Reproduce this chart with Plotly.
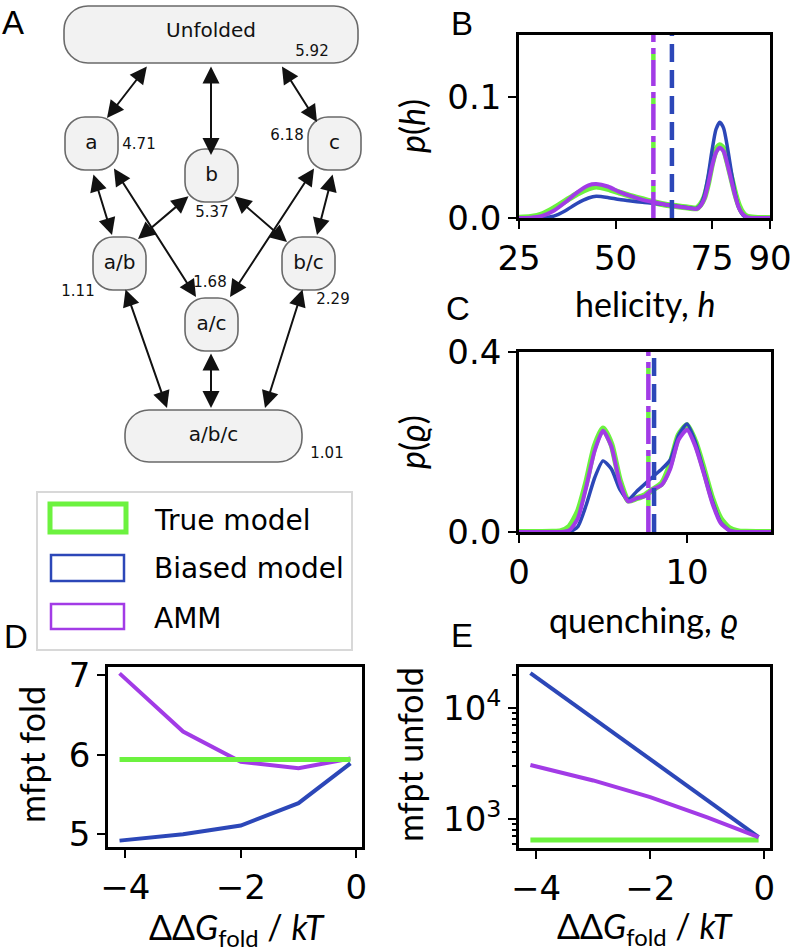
import plotly.graph_objects as go

# ---------------- data ----------------
# Panel A: kinetic network
node_names = ["Unfolded", "a", "b", "c", "a/b", "b/c", "a/c", "a/b/c"]
node_values = ["5.92", "4.71", "5.37", "6.18", "1.11", "2.29", "1.68", "1.01"]
edges = [("Unfolded", "a"), ("Unfolded", "b"), ("Unfolded", "c"),
         ("a", "a/b"), ("a", "a/c"), ("b", "a/b"), ("b", "b/c"),
         ("c", "a/c"), ("c", "b/c"),
         ("a/b", "a/b/c"), ("a/c", "a/b/c"), ("b/c", "a/b/c")]

# Panel B: helicity distributions
helicity = [25, 28, 31, 34, 37, 40, 43, 45, 48, 51, 54, 57, 60, 63, 66, 69, 71,
            72, 73, 74, 75, 76, 77, 78, 79, 80, 81, 82, 83, 84, 86, 90]
ph_true = [0.0002, 0.0008, 0.003, 0.008, 0.014, 0.020, 0.0245, 0.026, 0.024, 0.021, 0.018,
           0.0155, 0.013, 0.011, 0.0097, 0.0085, 0.008,
           0.011, 0.017, 0.029, 0.045, 0.056, 0.060, 0.057, 0.046, 0.033, 0.020, 0.010,
           0.004, 0.0012, 0.0002, 0.0]
ph_biased = [0.0, 0.0, 0.0003, 0.0015, 0.006, 0.012, 0.0165, 0.018, 0.017, 0.0152, 0.014,
             0.013, 0.0122, 0.011, 0.0098, 0.0085, 0.008,
             0.011, 0.019, 0.035, 0.056, 0.073, 0.079, 0.074, 0.058, 0.038, 0.020, 0.008,
             0.0025, 0.0005, 0.0, 0.0]
ph_amm = [0.0, 0.0003, 0.0018, 0.006, 0.013, 0.021, 0.027, 0.028, 0.026, 0.0215, 0.018,
          0.015, 0.013, 0.011, 0.0095, 0.0082, 0.0075,
          0.010, 0.016, 0.028, 0.043, 0.054, 0.058, 0.055, 0.044, 0.031, 0.018, 0.008,
          0.003, 0.0008, 0.0, 0.0]
mean_h = {"true": 59.8, "biased": 64.6, "amm": 59.8}

# Panel C: quenching distributions
quench = [0, 2, 2.5, 3, 3.5, 4, 4.5, 5, 5.5, 6, 6.5, 7, 7.5, 7.8, 8, 8.5, 9, 9.5,
          10, 10.5, 11, 11.5, 12, 12.5, 13, 13.5, 15]
pq_true = [0, 0.0005, 0.002, 0.012, 0.045, 0.11, 0.19, 0.23, 0.195, 0.115, 0.07, 0.075,
           0.082, 0.09, 0.095, 0.108, 0.15, 0.215, 0.237, 0.2, 0.14, 0.075, 0.03, 0.009,
           0.002, 0.0003, 0]
pq_biased = [0, 0, 0, 0, 0.012, 0.06, 0.12, 0.158, 0.14, 0.095, 0.072, 0.09, 0.107, 0.117,
             0.124, 0.14, 0.16, 0.215, 0.24, 0.2, 0.135, 0.07, 0.022, 0.004, 0, 0, 0]
pq_amm = [0, 0, 0, 0.004, 0.03, 0.10, 0.18, 0.225, 0.19, 0.11, 0.068, 0.075, 0.08, 0.09,
          0.095, 0.105, 0.14, 0.205, 0.227, 0.19, 0.13, 0.065, 0.02, 0.004, 0, 0, 0]
mean_q = {"true": 7.7, "biased": 8.04, "amm": 7.7}

# Panels D and E
ddg = [-4.1, -3.0, -2.0, -1.0, -0.1]
fold_true = [5.94, 5.94, 5.94, 5.94, 5.94]
fold_biased = [4.92, 5.00, 5.11, 5.39, 5.89]
fold_amm = [7.02, 6.29, 5.91, 5.83, 5.95]
unfold_true = [648, 648, 648, 648, 648]
unfold_biased = [20600, 8100, 3470, 1480, 690]
unfold_amm = [3070, 2230, 1580, 1036, 690]

legend_labels = ["True model", "Biased model", "AMM"]

# ---------------- layout / style (pixel positions) ----------------
W, H = 796, 952
GREEN, BLUE, PURPLE = "#6cf23f", "#2c47b8", "#a23be6"
TICKFONT = dict(family="DejaVu Sans", size=34, color="black")
LABELFONT = dict(family="Lato", size=34, color="black")

node_box = {"Unfolded": (64, 6, 358, 63, 24), "a": (65, 117, 118, 170, 20),
            "b": (185, 149, 238, 202, 20), "c": (308, 117, 361, 170, 20),
            "a/b": (93, 237, 146, 290, 20), "b/c": (282, 237, 335, 290, 20),
            "a/c": (185, 298, 238, 351, 20), "a/b/c": (125, 410, 302, 462, 24)}
value_pos = {"Unfolded": (312, 52), "a": (139, 145), "b": (212, 213), "c": (287, 136),
             "a/b": (78, 292), "b/c": (333, 300), "a/c": (210, 283), "a/b/c": (327, 454)}
edge_pos = [((148, 65), (107, 118)), ((211, 65), (211, 155)), ((281, 65), (317, 122)),
            ((93, 173), (112, 235)), ((113, 167), (196, 297)), ((190, 195), (138, 239)),
            ((233, 195), (287, 242)), ((315, 167), (230, 297)), ((333, 173), (317, 235)),
            ((125, 288), (167, 408)), ((211, 352), (211, 408)), ((303, 288), (265, 408))]


def px_dom_x(a, b):
    return [a / W, b / W]


def px_dom_y(top, bottom):
    return [1 - bottom / H, 1 - top / H]


def rrect(x0, y0, x1, y1, r):
    c = r * 0.5523
    return (f"M {x0+r},{y0} L {x1-r},{y0} C {x1-r+c},{y0} {x1},{y0+r-c} {x1},{y0+r} "
            f"L {x1},{y1-r} C {x1},{y1-r+c} {x1-r+c},{y1} {x1-r},{y1} "
            f"L {x0+r},{y1} C {x0+r-c},{y1} {x0},{y1-r+c} {x0},{y1-r} "
            f"L {x0},{y0+r} C {x0},{y0+r-c} {x0+r-c},{y0} {x0+r},{y0} Z")


fig = go.Figure()

# ---- Panel B ----
for yv, col, w in [(ph_true, GREEN, 6), (ph_biased, BLUE, 3.5), (ph_amm, PURPLE, 4)]:
    fig.add_trace(go.Scatter(x=helicity, y=yv, mode="lines",
                             line=dict(color=col, width=w, shape="spline", smoothing=0.6),
                             xaxis="x", yaxis="y", showlegend=False, hoverinfo="skip"))
# ---- Panel C ----
for yv, col, w in [(pq_true, GREEN, 6), (pq_biased, BLUE, 3.5), (pq_amm, PURPLE, 4)]:
    fig.add_trace(go.Scatter(x=quench, y=yv, mode="lines",
                             line=dict(color=col, width=w, shape="spline", smoothing=0.6),
                             xaxis="x2", yaxis="y2", showlegend=False, hoverinfo="skip"))
# ---- Panel D ----
for yv, col, w in [(fold_biased, BLUE, 4), (fold_amm, PURPLE, 4), (fold_true, GREEN, 5)]:
    fig.add_trace(go.Scatter(x=ddg, y=yv, mode="lines", line=dict(color=col, width=w),
                             xaxis="x3", yaxis="y3", showlegend=False, hoverinfo="skip"))
# ---- Panel E ----
for yv, col, w in [(unfold_true, GREEN, 5), (unfold_biased, BLUE, 4), (unfold_amm, PURPLE, 4)]:
    fig.add_trace(go.Scatter(x=ddg, y=yv, mode="lines", line=dict(color=col, width=w),
                             xaxis="x4", yaxis="y4", showlegend=False, hoverinfo="skip"))

# ---- Panel A: node labels and values as text traces on pixel axis ----
cx = [(node_box[n][0] + node_box[n][2]) / 2 for n in node_names]
cy = [(node_box[n][1] + node_box[n][3]) / 2 for n in node_names]
cy[0] = cy[0] - 3
fig.add_trace(go.Scatter(x=cx, y=cy, mode="text", text=node_names,
                         textfont=dict(family="DejaVu Sans", size=20, color="#111"),
                         xaxis="x5", yaxis="y5", showlegend=False, hoverinfo="skip"))
fig.add_trace(go.Scatter(x=[value_pos[n][0] for n in node_names],
                         y=[value_pos[n][1] for n in node_names], mode="text", text=node_values,
                         textfont=dict(family="DejaVu Sans", size=15, color="#111"),
                         xaxis="x5", yaxis="y5", showlegend=False, hoverinfo="skip"))

shapes = []
for n in node_names:
    x0, y0, x1, y1, r = node_box[n]
    shapes.append(dict(type="path", path=rrect(x0, y0, x1, y1, r), xref="x5", yref="y5",
                       fillcolor="#f2f2f2", line=dict(color="#6a6a6a", width=1.6), layer="below"))

# vertical mean lines
vstyles = [("true", GREEN, "0px,26px,6px,12px"), ("amm", PURPLE, "26px,6px,6px,6px"),
           ("biased", BLUE, "18px,8px")]
for key, col, dash in vstyles:
    shapes.append(dict(type="line", xref="x", yref="y domain", x0=mean_h[key], x1=mean_h[key],
                       y0=0, y1=1, line=dict(color=col, width=4.5, dash=dash)))
for key, col, dash in vstyles:
    shapes.append(dict(type="line", xref="x2", yref="y2 domain", x0=mean_q[key], x1=mean_q[key],
                       y0=0, y1=1, line=dict(color=col, width=4.5, dash=dash)))

# legend (drawn manually)
shapes.append(dict(type="rect", xref="x5", yref="y5", x0=37, y0=492, x1=352, y1=650,
                   fillcolor="white", line=dict(color="#d8d8d8", width=2)))
leg_rects = [(50, 504, 126, 532, GREEN, 5), (51, 555, 124, 581, BLUE, 2.5),
             (51, 604, 124, 629, PURPLE, 2.5)]
for x0, y0, x1, y1, col, lw in leg_rects:
    shapes.append(dict(type="rect", xref="x5", yref="y5", x0=x0, y0=y0, x1=x1, y1=y1,
                       fillcolor="white", line=dict(color=col, width=lw)))

annotations = []
for (p_from, p_to) in edge_pos:
    annotations.append(dict(x=p_to[0], y=p_to[1], ax=p_from[0], ay=p_from[1],
                            xref="x5", yref="y5", axref="x5", ayref="y5", text="",
                            showarrow=True, arrowhead=2, startarrowhead=2,
                            arrowside="end+start", arrowsize=1.7, startarrowsize=1.7,
                            arrowwidth=2, arrowcolor="#111", standoff=0, startstandoff=0))

for lbl, yc in zip(legend_labels, [520, 568, 618]):
    annotations.append(dict(x=152, y=yc, xref="x5", yref="y5", text=lbl, showarrow=False,
                            xanchor="left", yanchor="middle",
                            font=dict(family="DejaVu Sans", size=28, color="black")))

# panel letters
for letter, xx, yy in [("A", 0, 22), ("B", 449, 23), ("C", 444, 308), ("D", 2, 636), ("E", 449, 635)]:
    annotations.append(dict(x=xx, y=yy, xref="x5", yref="y5", text=letter, showarrow=False,
                            xanchor="left", yanchor="middle",
                            font=dict(family="Liberation Sans", size=33, color="black")))

# axis titles
titles = [("<i>p</i>(<i>h</i>)", 411, 126, -90), ("helicity, <i>h</i>", 645, 303, 0),
          ("<i>p</i>(<i>ϱ</i>)", 411, 442, -90), ("quenching, <i>ϱ</i>", 643, 619, 0),
          ("mfpt fold", 31, 755, -90), ("mfpt unfold", 409, 755, -90),
          ("ΔΔ<i>G</i><sub>fold</sub> / <i>kT</i>", 237, 929, 0),
          ("ΔΔ<i>G</i><sub>fold</sub> / <i>kT</i>", 645, 928, 0)]
for t, xx, yy, ang in titles:
    annotations.append(dict(x=xx, y=yy, xref="x5", yref="y5", text=t, showarrow=False,
                            xanchor="center", yanchor="middle", textangle=ang, font=LABELFONT))

axis_common = dict(showline=True, linecolor="black", linewidth=2.5, mirror=True,
                   ticks="outside", ticklen=8, tickwidth=2, tickcolor="black",
                   showgrid=False, zeroline=False, tickfont=TICKFONT, fixedrange=True,
                   automargin=False)

layout = dict(
    template="none",
    width=W, height=H, autosize=False,
    margin=dict(l=0, r=0, t=0, b=0, pad=0),
    paper_bgcolor="white", plot_bgcolor="rgba(0,0,0,0)",
    showlegend=False,
    xaxis=dict(axis_common, domain=px_dom_x(519, 770), range=[25, 90],
               tickvals=[25, 50, 75, 90], anchor="y"),
    yaxis=dict(axis_common, domain=px_dom_y(35, 218), range=[0, 0.151],
               tickvals=[0, 0.1], ticktext=["0.0", "0.1"], anchor="x"),
    xaxis2=dict(axis_common, domain=px_dom_x(519, 771), range=[0, 15],
                tickvals=[0, 10], anchor="y2"),
    yaxis2=dict(axis_common, domain=px_dom_y(352, 532), range=[0, 0.4],
                tickvals=[0, 0.4], ticktext=["0.0", "0.4"], anchor="x2"),
    xaxis3=dict(axis_common, domain=px_dom_x(108, 362), range=[-4.3, 0.1],
                tickvals=[-4, -2, 0], anchor="y3"),
    yaxis3=dict(axis_common, domain=px_dom_y(667, 847), range=[4.84, 7.10],
                tickvals=[5, 6, 7], anchor="x3"),
    xaxis4=dict(axis_common, domain=px_dom_x(519, 770), range=[-4.3, 0.1],
                tickvals=[-4, -2, 0], anchor="y4"),
    yaxis4=dict(axis_common, domain=px_dom_y(667, 848), type="log", range=[2.74, 4.37],
                tickvals=[1000, 10000], ticktext=["10<sup>3</sup>", "10<sup>4</sup>"],
                minor=dict(ticks="outside", ticklen=4, tickwidth=1.5, tickcolor="black",
                           tickvals=[600, 700, 800, 900, 2000, 3000, 4000, 5000, 6000,
                                     7000, 8000, 9000, 20000], showgrid=False),
                anchor="x4"),
    xaxis5=dict(domain=[0, 1], range=[0, W], visible=False, fixedrange=True, anchor="y5",
                automargin=False),
    yaxis5=dict(domain=[0, 1], range=[H, 0], visible=False, fixedrange=True, anchor="x5",
                automargin=False),
    shapes=shapes,
    annotations=annotations,
)
fig.update_layout(layout)
fig.write_html("out.html", config={"displayModeBar": False},
               post_script="document.body.style.margin='0px';document.body.style.overflow='hidden';")
